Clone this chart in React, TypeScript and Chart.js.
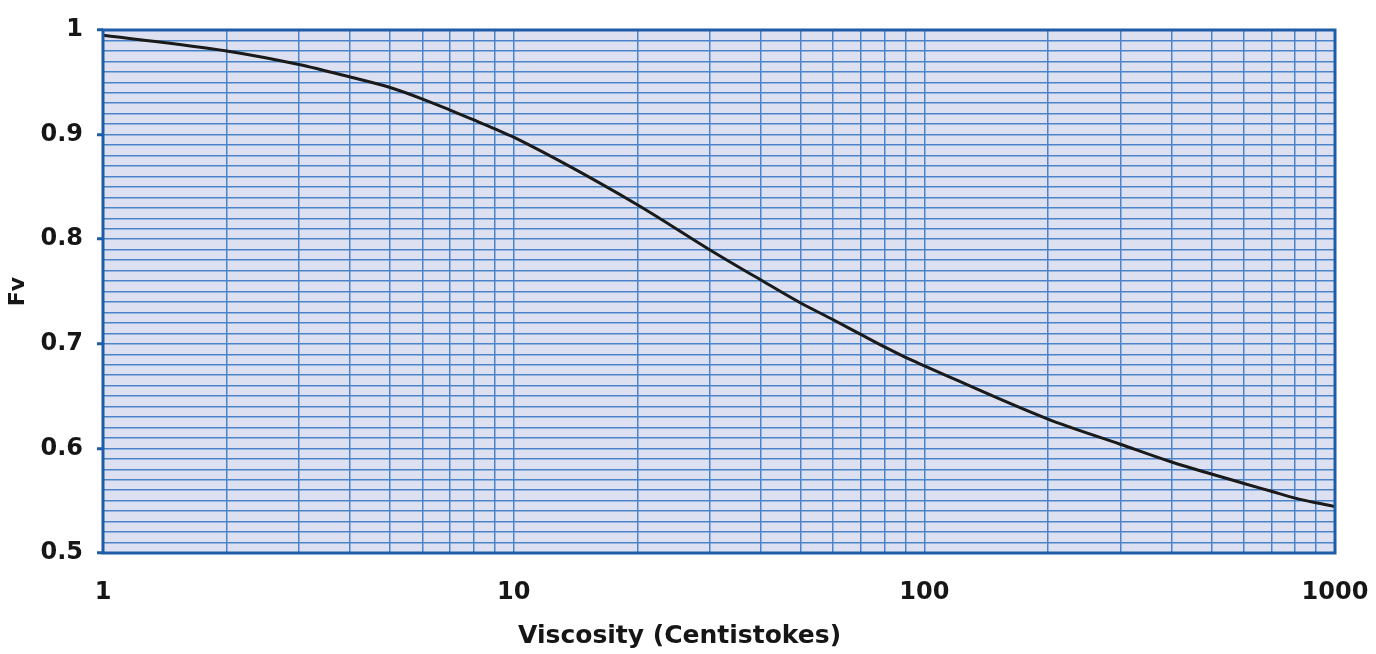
import React, { useEffect, useRef } from 'react';
import { Chart, registerables } from 'chart.js';

Chart.register(...registerables);

// Data
const viscosity = [1, 2, 3, 4, 5, 6, 7, 8, 9, 10, 20, 30, 40, 50, 60, 70, 80, 90, 100, 200, 300, 400, 500, 600, 700, 800, 900, 1000];
const fv = [0.995, 0.98, 0.967, 0.955, 0.945, 0.934, 0.9235, 0.914, 0.9055, 0.8975, 0.833, 0.79, 0.761, 0.739, 0.723, 0.709, 0.697, 0.687, 0.679, 0.628, 0.604, 0.587, 0.5755, 0.5665, 0.559, 0.5525, 0.548, 0.5445];

const xGridValues = [1, 2, 3, 4, 5, 6, 7, 8, 9, 10, 20, 30, 40, 50, 60, 70, 80, 90, 100, 200, 300, 400, 500, 600, 700, 800, 900, 1000];
const xTickValues = [1, 10, 100, 1000];
const xTickLabels = ['1', '10', '100', '1000'];
const yTickValues = [0.5, 0.6, 0.7, 0.8, 0.9, 1];
const yTickLabels = ['0.5', '0.6', '0.7', '0.8', '0.9', '1'];
const xTitle = 'Viscosity (Centistokes)';
const yTitle = 'Fv';

const FONT = "'DejaVu Sans', Verdana, sans-serif";
const GRID = '#4a83c8';
const BORDER = '#1f5ca8';
const PLOT_BG = '#dde0f1';
const TEXT = '#161616';

function findIdx(list: number[], v: number) {
  return list.findIndex((t) => Math.abs(t - v) < 1e-6 * Math.max(1, Math.abs(t)));
}

const plotDecor = {
  id: 'plotDecor',
  beforeDraw(chart: any) {
    const { ctx, chartArea } = chart;
    ctx.save();
    ctx.fillStyle = PLOT_BG;
    ctx.fillRect(chartArea.left, chartArea.top, chartArea.right - chartArea.left, chartArea.bottom - chartArea.top);
    ctx.restore();
  },
  afterDraw(chart: any) {
    const { ctx, chartArea } = chart;
    ctx.save();
    ctx.strokeStyle = BORDER;
    ctx.lineWidth = 3;
    ctx.strokeRect(chartArea.left, chartArea.top, chartArea.right - chartArea.left, chartArea.bottom - chartArea.top);
    ctx.fillStyle = TEXT;
    ctx.font = `bold 25px ${FONT}`;
    ctx.textAlign = 'center';
    ctx.textBaseline = 'middle';
    ctx.fillText(xTitle, chartArea.left + (chartArea.right - chartArea.left) * 0.468, 636);
    ctx.restore();
  },
};

export default function App() {
  const canvasRef = useRef<HTMLCanvasElement | null>(null);

  useEffect(() => {
    if (!canvasRef.current) return;
    const chart = new Chart(canvasRef.current, {
      type: 'line',
      data: {
        datasets: [
          {
            data: viscosity.map((x, i) => ({ x, y: fv[i] })),
            borderColor: '#1a1a1a',
            borderWidth: 3,
            pointRadius: 0,
            cubicInterpolationMode: 'monotone',
            fill: false,
          },
        ],
      },
      options: {
        animation: false,
        responsive: true,
        maintainAspectRatio: false,
        layout: { padding: { top: 30, right: 41, left: 0, bottom: 0 } },
        plugins: {
          legend: { display: false },
          tooltip: { enabled: false },
          title: { display: false },
        },
        scales: {
          x: {
            type: 'logarithmic',
            min: 1,
            max: 1000,
            afterBuildTicks: (scale: any) => {
              scale.ticks = xGridValues.map((v) => ({ value: v }));
            },
            afterFit: (scale: any) => {
              scale.height = 101;
              scale.paddingLeft = 0;
              scale.paddingRight = 0;
            },
            grid: { color: GRID, lineWidth: 1.5, drawTicks: false },
            border: { display: false },
            ticks: {
              autoSkip: false,
              maxRotation: 0,
              minRotation: 0,
              padding: 25,
              color: TEXT,
              font: { family: FONT, size: 24, weight: 'bold' },
              callback: (v: any) => {
                const i = findIdx(xTickValues, Number(v));
                return i >= 0 ? xTickLabels[i] : '';
              },
            },
          },
          y: {
            type: 'linear',
            min: 0.5,
            max: 1,
            afterFit: (scale: any) => {
              scale.width = 103;
              scale.paddingTop = 0;
              scale.paddingBottom = 0;
            },
            grid: {
              color: GRID,
              lineWidth: 1.5,
              drawTicks: true,
              tickLength: 6,
              tickWidth: 3,
              tickColor: (ctx: any) =>
                ctx.tick && findIdx(yTickValues, ctx.tick.value) >= 0 ? BORDER : 'rgba(0,0,0,0)',
            },
            border: { display: false },
            ticks: {
              stepSize: 0.01,
              autoSkip: false,
              padding: 14,
              color: TEXT,
              font: { family: FONT, size: 24, weight: 'bold' },
              callback: (v: any) => {
                const i = findIdx(yTickValues, Number(v));
                return i >= 0 ? yTickLabels[i] : '';
              },
            },
            title: {
              display: true,
              text: yTitle,
              color: TEXT,
              font: { family: FONT, size: 22, weight: 'bold' },
              padding: { top: 5, bottom: 0 },
            },
          },
        },
      } as any,
      plugins: [plotDecor],
    });
    return () => chart.destroy();
  }, []);

  return (
    <div style={{ position: 'fixed', left: 0, top: 0, width: 1376, height: 654, background: '#fff' }}>
      <canvas ref={canvasRef} />
    </div>
  );
}
